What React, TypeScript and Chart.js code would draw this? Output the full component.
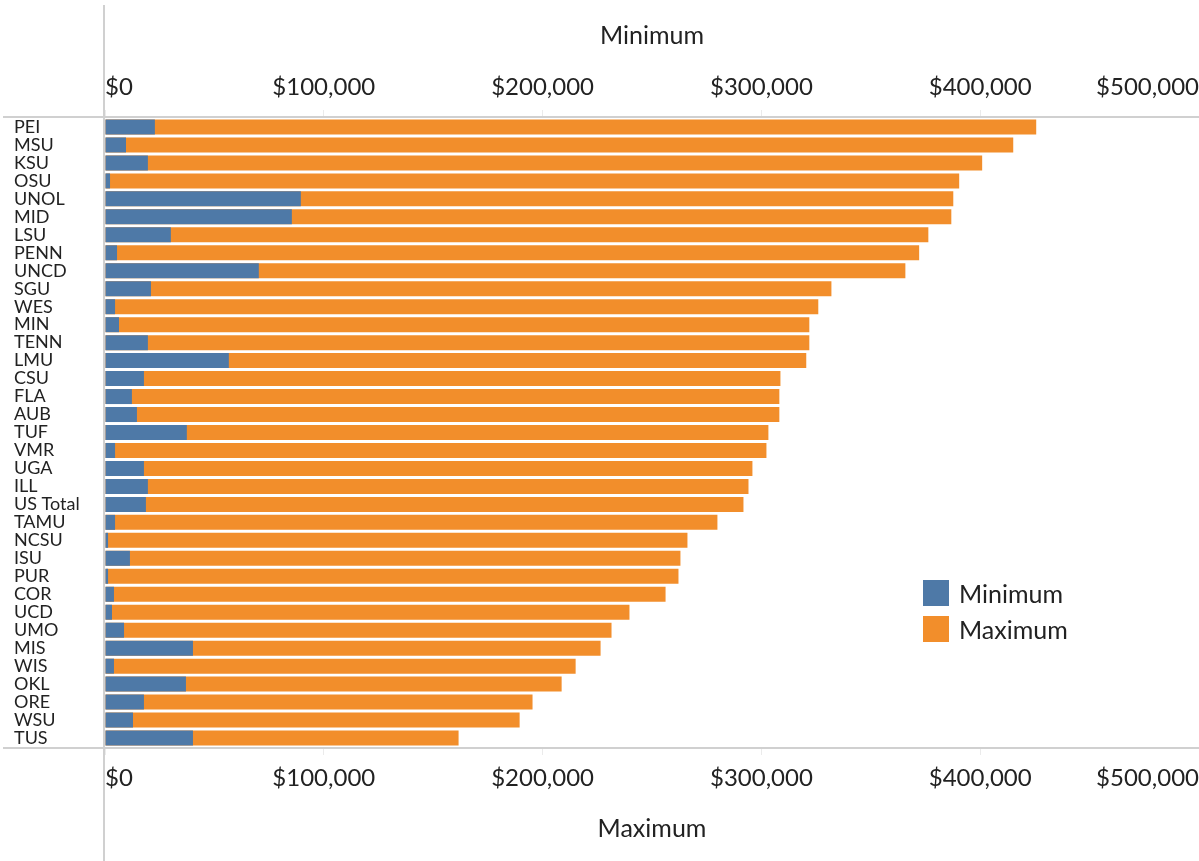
import React, { useEffect, useRef } from "react";
import { Chart, registerables } from "chart.js";

Chart.register(...registerables);

const categories = [
  "PEI", "MSU", "KSU", "OSU", "UNOL", "MID", "LSU", "PENN", "UNCD", "SGU", "WES", "MIN",
  "TENN", "LMU", "CSU", "FLA", "AUB", "TUF", "VMR", "UGA", "ILL", "US Total", "TAMU",
  "NCSU", "ISU", "PUR", "COR", "UCD", "UMO", "MIS", "WIS", "OKL", "ORE", "WSU", "TUS",
];

const minimumValues = [
  22800, 9600, 19600, 2300, 89500, 85400, 30100, 5500, 70300, 21000, 4600, 6400,
  19600, 56600, 17800, 12300, 14600, 37400, 4600, 17800, 19600, 18700, 4600,
  1400, 11400, 1400, 4100, 3200, 8700, 40200, 4100, 37000, 17800, 12800, 40200,
];

const maximumValues = [
  425600, 415100, 400900, 390400, 387700, 386800, 376300, 372100, 365800, 332000, 326000, 321900,
  321900, 320500, 308700, 308200, 308200, 303200, 302300, 295900, 294100, 291800, 279900,
  266200, 263000, 262100, 256200, 239700, 231500, 226500, 215100, 208700, 195400, 189500, 161600,
];

const tickValues = [0, 100000, 200000, 300000, 400000, 500000];

const seriesLabels = ["Minimum", "Maximum"];
const seriesColors = ["#4e79a7", "#f28e2b"];

const FONT = "Lato, 'Open Sans', sans-serif";

const money = (v: number) => "$" + Number(v).toLocaleString("en-US");

const framePlugin = {
  id: "frameLines",
  afterDraw(chart: any) {
    const { ctx, chartArea } = chart;
    ctx.save();
    ctx.strokeStyle = "#d0d0d0";
    ctx.lineWidth = 2;
    ctx.beginPath();
    ctx.moveTo(chartArea.left - 1, 5);
    ctx.lineTo(chartArea.left - 1, chart.height);
    ctx.moveTo(3, chartArea.top - 1);
    ctx.lineTo(chart.width, chartArea.top - 1);
    ctx.moveTo(3, chartArea.bottom + 1);
    ctx.lineTo(chart.width, chartArea.bottom + 1);
    ctx.stroke();
    ctx.restore();
  },
};

function xAxis(position: "top" | "bottom", title: string, height: number, titlePad: any) {
  return {
    type: "linear" as const,
    position,
    min: 0,
    max: 500000,
    afterBuildTicks: (scale: any) => {
      scale.ticks = tickValues.map((v) => ({ value: v }));
    },
    afterFit: (scale: any) => {
      scale.height = height;
      scale.paddingLeft = 0;
      scale.paddingRight = 0;
    },
    ticks: {
      align: "inner" as const,
      padding: 8.5,
      color: "#222",
      font: { family: FONT, size: 24 },
      callback: (v: any) => money(v),
    },
    grid: {
      display: true,
      drawOnChartArea: false,
      drawTicks: true,
      tickLength: 8,
      color: "#ebebeb",
    },
    border: { display: false },
    title: {
      display: true,
      text: title,
      color: "#222",
      font: { family: FONT, size: 25 },
      padding: titlePad,
    },
  };
}

export default function App() {
  const canvasRef = useRef<HTMLCanvasElement | null>(null);

  useEffect(() => {
    if (!canvasRef.current) return;
    const chart = new Chart(canvasRef.current, {
      type: "bar",
      data: {
        labels: categories,
        datasets: [
          {
            label: seriesLabels[0],
            data: minimumValues,
            backgroundColor: seriesColors[0],
            xAxisID: "x2",
            grouped: false,
            barPercentage: 0.835,
            categoryPercentage: 1,
          },
          {
            label: seriesLabels[1],
            data: maximumValues,
            backgroundColor: seriesColors[1],
            xAxisID: "x",
            grouped: false,
            barPercentage: 0.835,
            categoryPercentage: 1,
          },
        ],
      },
      options: {
        indexAxis: "y",
        responsive: false,
        animation: false,
        devicePixelRatio: 1,
        layout: { padding: { left: 14, top: 0, right: 0, bottom: 0 } },
        plugins: {
          legend: { display: false },
          tooltip: { enabled: false },
        },
        scales: {
          x2: xAxis("top", "Minimum", 118, { top: 21, bottom: 0 }),
          x: xAxis("bottom", "Maximum", 114, { top: 0, bottom: 17 }),
          y: {
            type: "category",
            position: "left",
            afterFit: (scale: any) => {
              scale.width = 91;
            },
            ticks: {
              crossAlign: "far",
              padding: 0,
              color: "#222",
              font: { family: FONT, size: 18 },
              autoSkip: false,
            },
            grid: { display: false, drawTicks: false },
            border: { display: false },
          },
        },
      } as any,
      plugins: [framePlugin],
    });
    return () => chart.destroy();
  }, []);

  return (
    <div style={{ position: "absolute", left: 0, top: 0, width: 1199, height: 861, background: "#fff" }}>
      <canvas ref={canvasRef} width={1199} height={861} style={{ display: "block" }} />
      <div style={{ position: "absolute", left: 923, top: 580, fontFamily: FONT, fontSize: 25, color: "#222" }}>
        {seriesLabels.map((label, i) => (
          <div key={label} style={{ display: "flex", alignItems: "center", height: 26, marginBottom: 10 }}>
            <span style={{ display: "inline-block", width: 26, height: 26, background: seriesColors[i], marginRight: 10 }} />
            <span>{label}</span>
          </div>
        ))}
      </div>
    </div>
  );
}
